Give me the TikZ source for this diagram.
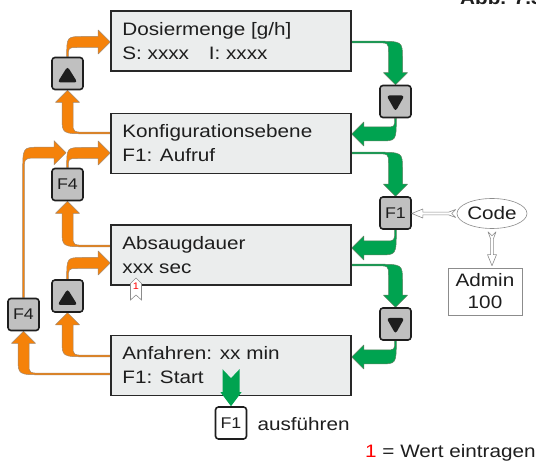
\documentclass[tikz,border=0pt]{standalone}
\usepackage{fontspec}
\setmainfont{Liberation Sans}[FakeStretch=1.15]
\usetikzlibrary{calc,shapes.geometric}
\pgfdeclarelayer{paper}
\pgfdeclarelayer{arrows}
\pgfsetlayers{paper,arrows,main}

\definecolor{ink}{RGB}{30,30,30}
\definecolor{screenfill}{RGB}{235,237,237}
\definecolor{screenedge}{RGB}{40,40,40}
\definecolor{keyfill}{RGB}{192,192,192}
\definecolor{flowor}{RGB}{245,130,10}
\definecolor{flowgr}{RGB}{0,163,80}
\definecolor{floworedge}{RGB}{165,135,105}
\definecolor{flowgredge}{RGB}{90,130,95}
\definecolor{thin}{RGB}{140,140,140}

% local frame: origin at the start, x along the first leg, y along the second
\newcommand\legframe[3]{%
  \path (#1) coordinate (bA) (#2) coordinate (bB);
  \pgfpointanchor{bA}{center}\pgfgetlastxy{\qax}{\qay}%
  \pgfpointanchor{bB}{center}\pgfgetlastxy{\qbx}{\qby}%
  \pgfmathsetmacro\qdx{\qbx-\qax}%
  \pgfmathsetmacro\qdy{\qby-\qay}%
  \pgfmathsetmacro\qsx{\qdx<0?-1:1}%
  \pgfmathsetmacro\qsy{\qdy<0?-1:1}%
  \if#3h
    \pgfmathsetmacro\qL{abs(\qdx)}\pgfmathsetmacro\qM{abs(\qdy)}%
  \else
    \pgfmathsetmacro\qL{abs(\qdy)}\pgfmathsetmacro\qM{abs(\qdx)}%
  \fi}
\newcommand\legcm[1]{%
  \if#1h\pgftransformcm{\qsx}{0}{0}{\qsy}{\pgfpoint{\qax}{\qay}}%
  \else\pgftransformcm{0}{\qsy}{\qsx}{0}{\pgfpoint{\qax}{\qay}}\fi}

\def\wz{0.8}% half width of the thin start
\def\hw{24}% head width
\def\hl{12}% head length

% bent flow arrow: a thin line that flares through the bend into a broad head
\newcommand\bendarrow[4]{%
  \legframe{#1}{#2}{#3}%
  \pgfmathsetmacro\qxo{max(0,\qL-20)}%
  \pgfmathsetmacro\qLo{\qL+\sw/2}%
  \pgfmathsetmacro\qLi{\qL-\sw/2}%
  \pgfmathsetmacro\qLp{\qL+\hw/2}%
  \pgfmathsetmacro\qLm{\qL-\hw/2}%
  \pgfmathsetmacro\qMb{\qM-\hl}%
  \begin{pgfonlayer}{arrows}
  \begin{scope}
    \legcm{#3}%
    \filldraw[#4] (0pt,-\wz pt) -- (\qxo pt,-\wz pt)
      .. controls (\qLo pt,-\wz pt) .. (\qLo pt,16pt) -- (\qLo pt,\qMb pt)
      -- (\qLp pt,\qMb pt) -- (\qL pt,\qM pt) -- (\qLm pt,\qMb pt) -- (\qLi pt,\qMb pt)
      -- (\qLi pt,10pt) .. controls (\qLi pt,\wz pt) .. (\qxo pt,\wz pt)
      -- (0pt,\wz pt) -- cycle;
  \end{scope}
  \end{pgfonlayer}}
\newcommand\orangebend[3]{\def\sw{11}\bendarrow{#1}{#2}{#3}{orangeflow}}
\newcommand\greenbend[3]{\def\sw{14}\bendarrow{#1}{#2}{#3}{greenflow}}

% thin hollow arrow with a notched tail
\newcommand\hollowarrow[3]{%
  \legframe{#1}{#2}{#3}%
  \pgfmathsetmacro\qHb{\qL-11}%
  \begin{scope}
    \legcm{#3}%
    \filldraw[hollow] (\qL pt,0pt) -- (\qHb pt,4.5pt) -- (\qHb pt,1.4pt) -- (7pt,1.4pt)
      -- (0pt,4pt) -- (4pt,0pt) -- (0pt,-4pt) -- (7pt,-1.4pt) -- (\qHb pt,-1.4pt)
      -- (\qHb pt,-4.5pt) -- cycle;
  \end{scope}}

\begin{document}
\begin{tikzpicture}[x=1pt,y=-1pt,
  screen/.style={draw=screenedge, fill=screenfill, line width=1.6pt,
    minimum width=240, minimum height=60, inner sep=0},
  line/.style={anchor=base west, inner sep=0, text=ink,
    font=\fontsize{18}{24}\selectfont},
  key/.style={draw=ink, fill=keyfill, line width=1.6pt, rounded corners=3pt,
    minimum width=31, minimum height=32, inner sep=0, text=ink,
    font=\fontsize{15.5}{16}\selectfont},
  keyup/.style={key, path picture={\fill[ink]
    ($(path picture bounding box.center)+(-10,9)$) -- ++(20,0) -- ++(-10,-16) -- cycle;}},
  keydown/.style={key, path picture={\fill[ink]
    ($(path picture bounding box.center)+(-9,-6)$) -- ++(18,0) -- ++(-9,16) -- cycle;}},
  orangeflow/.style={fill=flowor, draw=floworedge, line width=0.5pt, line join=round},
  greenflow/.style={fill=flowgr, draw=flowgredge, line width=0.5pt, line join=round},
  hollow/.style={fill=white, draw=thin, line width=0.6pt, line join=round},
  tag/.style={fill=white, draw=thin, line width=0.6pt}]

\useasboundingbox (0,0) rectangle (536,462);
\begin{pgfonlayer}{paper}
  \fill[white] (0,0) rectangle (536,462);
\end{pgfonlayer}

% display screens
\node[screen] (b1) at (231,41) {};
\node[screen] (b2) at (231,143.5) {};
\node[screen] (b3) at (231,255) {};
\node[screen] (b4) at (231,365.5) {};

\node[line] (b1a) at ($(b1.north west)+(12,25)$) {Dosiermenge [g/h]};
\node[line] (b1b) at ($(b1.north west)+(12,49)$) {S: xxxx\hspace{14pt} I: xxxx};
\node[line] (b2a) at ($(b2.north west)+(12,25)$) {Konfigurationsebene};
\node[line] (b2b) at ($(b2.north west)+(12,49)$) {F1: Aufruf};
\node[line] (b3a) at ($(b3.north west)+(12,25)$) {Absaugdauer};
\node[line] (b3b) at ($(b3.north west)+(12,49)$) {xxx sec};
\node[line] (b4a) at ($(b4.north west)+(12,25)$) {Anfahren: xx min};
\node[line] (b4b) at ($(b4.north west)+(12,49)$) {F1: Start};

% keys
\node[keyup] (up1) at (67.5,73.5) {};
\node[keydown] (dn1) at (395.5,101.5) {};
\node[key] (f4a) at (67.5,184.5) {F4};
\node[key] (f1a) at (395.5,213) {F1};
\node[keydown] (dn2) at (395.5,324) {};
\node[keyup] (up2) at (67.5,296) {};
\node[key] (f4b) at (23.5,314.5) {F4};

% downward path (green)
\greenbend{$(b1.east)+(0,1)$}{dn1.north}{h}
\greenbend{dn1.south}{$(b2.east)+(0,-9.5)$}{v}
\greenbend{$(b2.east)+(0,9.5)$}{f1a.north}{h}
\greenbend{f1a.south}{$(b3.east)+(0,-7)$}{v}
\greenbend{$(b3.east)+(0,10)$}{dn2.north}{h}
\greenbend{dn2.south}{$(b4.east)+(0,-8.5)$}{v}

% upward path (orange)
\orangebend{$(b2.west)+(0,-10.5)$}{up1.south}{h}
\orangebend{up1.north}{$(b1.west)+(0,1)$}{v}
\orangebend{$(b3.west)+(0,-9)$}{f4a.south}{h}
\orangebend{f4a.north}{$(b2.west)+(0,9.5)$}{v}
\orangebend{$(b4.west)+(0,8.5)$}{f4b.south}{h}
\orangebend{f4b.north}{$(f4a.north)+(-1.5,-15)$}{v}
\orangebend{$(b4.west)+(0,-9.5)$}{up2.south}{h}
\orangebend{up2.north}{$(b3.west)+(0,8)$}{v}

% start key
\node[key, fill=white] (f1b) at (231,423) {F1};
\fill[flowgr] ($(f1b.north)+(-8.5,-37)$) -- ($(f1b.north)+(0,-28)$) -- ($(f1b.north)+(8.5,-37)$)
  -- ($(f1b.north)+(8.5,-14)$) -- ($(f1b.north)+(10.5,-14)$) -- (f1b.north)
  -- ($(f1b.north)+(-10.5,-14)$) -- ($(f1b.north)+(-8.5,-14)$) -- cycle;
\node[line] (doit) at ($(f1b.east)+(10,8)$) {ausführen};

% code entry
\node[ellipse, draw=thin, fill=white, line width=0.6pt, minimum width=64, minimum height=30,
  inner sep=0, text=ink, font=\fontsize{18}{24}\selectfont] (code) at (492,213.5) {Code};
\node[draw=thin, fill=white, line width=0.6pt, minimum width=74, minimum height=47, inner sep=0,
  align=center, text=ink, font=\fontsize{18}{22}\selectfont] (adm) at (485,291.5) {Admin\\100};
\hollowarrow{$(code.west)+(-1,0)$}{f1a.east |- code.west}{h}
\hollowarrow{$(code.south)+(0,3)$}{$(code.south |- adm.north)+(0,-2)$}{v}

% value marker
\filldraw[tag] (136,278) -- (141.5,283.5) -- (141.5,300) -- (136,295) -- (130.5,300) -- (130.5,283.5) -- cycle;
\node[anchor=base, inner sep=0, text=red, font=\fontsize{9.5}{10}\selectfont] (mk) at (136,289.5) {1};

% legend and caption
\node[line] (note) at (365,458) {\textcolor{red}{1} = Wert eintragen};
\node[line, font=\fontsize{18}{24}\selectfont\bfseries] (fig) at (460,5) {Abb. 7.3};
\end{tikzpicture}
\end{document}
